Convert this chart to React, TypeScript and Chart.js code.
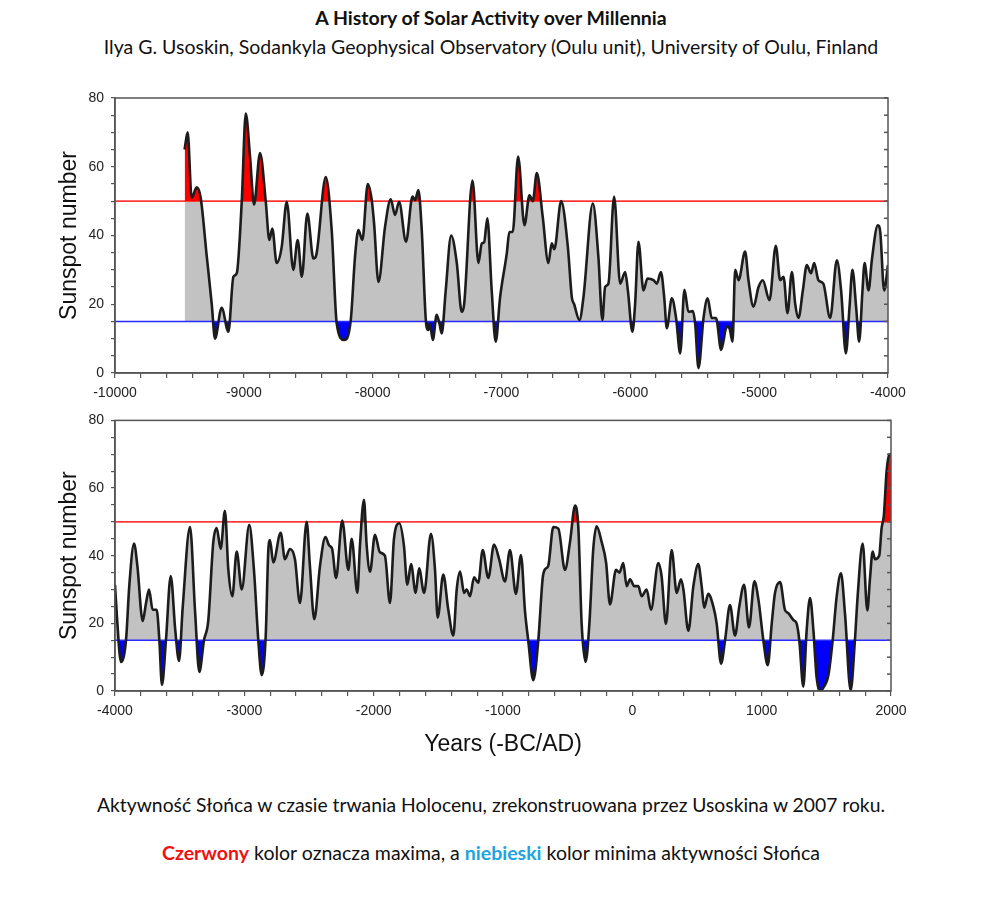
import React, { useEffect, useRef } from "react";
import { Chart, registerables } from "chart.js";

Chart.register(...registerables);

// ---------- DATA ----------
// Upper panel: 9500 BC .. 4000 BC
const TOP_YEARS = [
  -9460, -9436, -9405, -9366, -9335, -9288, -9249, -9224, -9172, -9120,
  -9081, -9055, -9016, -8985, -8952, -8921, -8874, -8830, -8802, -8779,
  -8745, -8706, -8667, -8616, -8582, -8550, -8507, -8460, -8440, -8364,
  -8318, -8279, -8222, -8170, -8137, -8111, -8080, -8038, -8007, -7989,
  -7955, -7904, -7860, -7826, -7795, -7741, -7691, -7671, -7645, -7619,
  -7585, -7567, -7556, -7533, -7503, -7482, -7464, -7433, -7391, -7347,
  -7309, -7290, -7225, -7179, -7153, -7135, -7110, -7076, -7045, -7011,
  -6959, -6939, -6913, -6871, -6822, -6783, -6757, -6726, -6680, -6636,
  -6610, -6590, -6537, -6485, -6454, -6436, -6395, -6364, -6291, -6248,
  -6217, -6196, -6170, -6126, -6079, -6040, -6019, -5984, -5963, -5937,
  -5898, -5867, -5820, -5794, -5763, -5737, -5717, -5678, -5645, -5613,
  -5580, -5549, -5515, -5497, -5471, -5432, -5400, -5368, -5335, -5295,
  -5251, -5230, -5207, -5186, -5160, -5109, -5083, -5044, -5005, -4972,
  -4920, -4871, -4837, -4811, -4780, -4746, -4720, -4695, -4661, -4630,
  -4598, -4573, -4540, -4502, -4449, -4397, -4364, -4327, -4299, -4276,
  -4247, -4224, -4198, -4182, -4151, -4125, -4079, -4060, -4030, -4000,
];
const TOP_SSN = [
  65, 70, 51, 54, 51, 34, 20, 10, 19, 12,
  28, 29, 50, 75.5, 63, 49, 64, 50, 38.7, 42,
  32, 36.7, 49.8, 30, 38.7, 28, 46.4, 33.3, 34, 57,
  41.6, 14.4, 9.6, 15.4, 33.8, 41.6, 38.7, 55, 50.3, 43.5,
  26.5, 42.5, 50.5, 46, 49.8, 38.2, 51.3, 50.3, 53.2, 41.6,
  14.4, 12.5, 14.4, 9.6, 16.9, 14.4, 11.5, 24, 40, 32,
  17.8, 20, 56, 32, 37.7, 38, 45, 24, 9.1, 22,
  34.8, 41, 41, 63, 43, 51.7, 50, 58.2, 45.4, 32,
  37.7, 36, 50, 36.7, 22, 20, 15.4, 22, 49.3, 33.8,
  15.4, 25, 26, 51.3, 26, 29.4, 24, 12, 20, 38.2,
  24, 27.5, 27, 26, 29.4, 22, 13, 21.7, 16, 5.7,
  24.2, 17.8, 18, 14.4, 1.4, 16, 21.7, 16, 16, 6.7,
  13.5, 13, 9.1, 30, 27, 35.3, 27, 19.3, 25, 27,
  21.2, 37, 27, 28, 17.4, 29.4, 20, 16, 24, 31.4,
  29, 32, 27, 26, 16, 32.8, 24, 5.7, 19, 30,
  19, 9.1, 24, 32, 24, 33, 43, 41, 24, 31.4,
];

// Lower panel: 4000 BC .. 2000 AD
const BOTTOM_YEARS = [
  -4000, -3985, -3954, -3915, -3889, -3853, -3827, -3786, -3760, -3737,
  -3709, -3678, -3657, -3637, -3606, -3569, -3534, -3505, -3476, -3420,
  -3381, -3348, -3312, -3279, -3240, -3214, -3183, -3150, -3124, -3093,
  -3059, -3020, -2962, -2926, -2892, -2866, -2835, -2815, -2802, -2776,
  -2719, -2686, -2647, -2609, -2570, -2518, -2493, -2459, -2415, -2373,
  -2344, -2321, -2291, -2243, -2196, -2170, -2126, -2106, -2075, -2054,
  -2028, -1990, -1952, -1913, -1874, -1843, -1802, -1766, -1740, -1711,
  -1675, -1649, -1610, -1557, -1526, -1505, -1462, -1423, -1384, -1358,
  -1332, -1301, -1281, -1255, -1224, -1191, -1157, -1114, -1069, -1030,
  -985, -946, -900, -861, -830, -805, -766, -727, -693, -675,
  -650, -611, -572, -521, -482, -443, -417, -392, -361, -332,
  -302, -276, -237, -203, -173, -126, -100, -70, -44, -18,
  15, 46, 72, 111, 144, 201, 226, 260, 304, 343,
  376, 395, 433, 472, 510, 536, 556, 587, 626, 652,
  686, 717, 755, 794, 827, 864, 902, 944, 975, 1013,
  1047, 1078, 1103, 1142, 1180, 1206, 1245, 1270, 1291, 1322,
  1348, 1374, 1400, 1425, 1456, 1477, 1516, 1549, 1580, 1613,
  1644, 1688, 1721, 1742, 1781, 1817, 1837, 1858, 1876, 1909,
  1927, 1945, 1966, 1987, 2000,
];
const BOTTOM_SSN = [
  31.4, 22, 8.6, 15, 31.4, 43.6, 37, 20.7, 26, 30,
  24, 24, 15, 1.8, 15, 34, 18, 8.9, 25, 48.5,
  23.6, 5.6, 15, 20.7, 44, 48.2, 42, 53.3, 36, 28,
  41.2, 30, 49.1, 36, 15, 4.7, 16, 41.2, 44.6, 38,
  46.8, 39, 42, 39, 26, 50, 37, 21.2, 37, 45.5,
  43, 42, 33.4, 50.4, 35.8, 45, 29, 43, 56.5, 43,
  35.3, 46.2, 41, 40, 26, 45, 49.6, 43, 31.4, 37.5,
  29, 36.3, 29, 46.5, 36, 21.7, 34.4, 24, 16.4, 30,
  35.3, 29, 30, 28, 33.6, 32, 41.7, 33.4, 43.3, 39,
  32.4, 41.7, 28.7, 40.2, 23.6, 15, 3.2, 15, 33.4, 36,
  37, 48.5, 48, 35.8, 44, 54.8, 48, 20, 8.6, 20,
  42, 48.7, 44, 38, 25.6, 35.8, 35, 37.8, 31, 33,
  31, 31, 28, 30, 24, 37.8, 34, 19.8, 41.7, 29,
  33, 30, 17.8, 31, 37.5, 31, 24.6, 28.7, 25, 20,
  8.1, 15, 25.4, 16.4, 25, 31.4, 18.8, 32.4, 27, 15,
  7.6, 20, 29, 32.2, 24, 23, 21, 20, 15, 1.3,
  18, 27.5, 18, 4, 0, 1, 4.7, 15, 28, 34.8,
  23, 0.2, 15, 28, 43.6, 23.8, 33, 41.2, 39, 40,
  48, 52, 65, 70, 70,
];

const TOP_RANGE = [-10000, -4000];
const BOTTOM_RANGE = [-4000, 2000];
const MAX_LEVEL = 50; // red line – grand maxima
const MIN_LEVEL = 15; // blue line – grand minima
const Y_MIN = 0;
const Y_MAX = 80;
const X_TICK_STEP = 200;
const X_LABEL_STEP = 1000;
const Y_TICK_STEP = 5;
const Y_LABEL_STEP = 20;

const TITLE = "A History of Solar Activity over Millennia";
const SUBTITLE =
  "Ilya G. Usoskin, Sodankyla Geophysical Observatory (Oulu unit), University of Oulu, Finland";
const Y_TITLE = "Sunspot number";
const X_TITLE = "Years (-BC/AD)";

const TICK_FONT = { family: "'Liberation Sans Narrow', 'Liberation Sans', Arial, sans-serif", size: 14 };
const AXIS_TITLE_FONT = { family: "'Liberation Sans', Arial, sans-serif", size: 23 };
const TEXT_FONT = "Lato, 'Open Sans', sans-serif";

const framePlugin = {
  id: "frame",
  afterDatasetsDraw(chart: any) {
    const { ctx, chartArea: a, scales } = chart;
    ctx.save();
    ctx.strokeStyle = "#555";
    ctx.lineWidth = 1.5;
    ctx.strokeRect(a.left, a.top, a.right - a.left, a.bottom - a.top);
    const ys = scales.y;
    for (let v = Y_MIN; v <= Y_MAX; v += Y_TICK_STEP) {
      const py = ys.getPixelForValue(v);
      ctx.beginPath();
      ctx.moveTo(a.right, py);
      ctx.lineTo(a.right - 4, py);
      ctx.stroke();
    }
    ctx.restore();
  },
};

type PanelProps = {
  years: number[];
  values: number[];
  range: number[];
  width: number;
  height: number;
  padding: { left: number; right: number; top: number; bottom: number };
  yWidth: number;
  xHeight: number;
  showXTitle: boolean;
};

function Panel(props: PanelProps) {
  const ref = useRef<HTMLCanvasElement | null>(null);
  useEffect(() => {
    if (!ref.current) return;
    const pts = props.years.map((x, i) => ({ x, y: props.values[i] }));
    const [x0, x1] = props.range;
    const chart = new Chart(ref.current, {
      type: "line",
      data: {
        datasets: [
          {
            data: pts,
            borderColor: "#1c1c1c",
            borderWidth: 2.6,
            pointRadius: 0,
            cubicInterpolationMode: "monotone",
            fill: { target: { value: MAX_LEVEL }, above: "#ff0000", below: "rgba(0,0,0,0)" },
          } as any,
          {
            data: [
              { x: x0, y: MAX_LEVEL },
              { x: x1, y: MAX_LEVEL },
            ],
            borderColor: "#ff3b3b",
            borderWidth: 1.6,
            pointRadius: 0,
            fill: false,
          },
          {
            data: [
              { x: x0, y: MIN_LEVEL },
              { x: x1, y: MIN_LEVEL },
            ],
            borderColor: "#2a2aff",
            borderWidth: 1.6,
            pointRadius: 0,
            fill: false,
          },
          {
            data: pts,
            borderColor: "rgba(0,0,0,0)",
            borderWidth: 0,
            pointRadius: 0,
            cubicInterpolationMode: "monotone",
            fill: { target: { value: MIN_LEVEL }, above: "#c2c2c2", below: "#0000ff" },
          } as any,
        ],
      },
      options: {
        responsive: false,
        animation: false,
        events: [],
        layout: { padding: props.padding },
        plugins: { legend: { display: false }, tooltip: { enabled: false }, title: { display: false } },
        scales: {
          x: {
            type: "linear",
            min: x0,
            max: x1,
            afterFit: (s: any) => {
              s.height = props.xHeight;
            },
            ticks: {
              stepSize: X_TICK_STEP,
              autoSkip: false,
              maxRotation: 0,
              padding: 7,
              color: "#222",
              font: TICK_FONT,
              callback: (v: any) => (Number(v) % X_LABEL_STEP === 0 ? String(v) : ""),
            },
            grid: { drawOnChartArea: false, tickLength: 5, color: "#555", lineWidth: 1.2 },
            border: { color: "#555", width: 1.5 },
            title: {
              display: props.showXTitle,
              text: X_TITLE,
              color: "#111",
              font: AXIS_TITLE_FONT,
              padding: 0,
            },
          },
          y: {
            min: Y_MIN,
            max: Y_MAX,
            afterFit: (s: any) => {
              s.width = props.yWidth;
            },
            ticks: {
              stepSize: Y_TICK_STEP,
              autoSkip: false,
              padding: 7,
              color: "#222",
              font: TICK_FONT,
              callback: (v: any) => (Number(v) % Y_LABEL_STEP === 0 ? String(v) : ""),
            },
            grid: { drawOnChartArea: false, tickLength: 4, color: "#555", lineWidth: 1.2 },
            border: { color: "#555", width: 1.5 },
            title: {
              display: true,
              text: Y_TITLE,
              color: "#111",
              font: AXIS_TITLE_FONT,
              padding: 0,
            },
          },
        },
      },
      plugins: [framePlugin],
    });
    return () => chart.destroy();
  }, []);
  return (
    <canvas
      ref={ref}
      width={props.width}
      height={props.height}
      style={{ display: "block", width: props.width, height: props.height }}
    />
  );
}

const abs = (top: number, extra: any = {}) => ({
  position: "absolute" as const,
  left: 0,
  top,
  width: 982,
  textAlign: "center" as const,
  fontFamily: TEXT_FONT,
  color: "#111",
  whiteSpace: "nowrap" as const,
  ...extra,
});

export default function App() {
  return (
    <div style={{ position: "absolute", left: 0, top: 0, width: 982, height: 908, background: "#fff", overflow: "hidden" }}>
      <div style={abs(5, { fontSize: 19.5, fontWeight: 700, lineHeight: "26px" })}>{TITLE}</div>
      <div style={abs(34, { fontSize: 19.5, lineHeight: "26px" })}>{SUBTITLE}</div>

      <div style={{ position: "absolute", left: 0, top: 80 }}>
        <Panel
          years={TOP_YEARS}
          values={TOP_SSN}
          range={TOP_RANGE}
          width={982}
          height={325}
          padding={{ left: 56, right: 94, top: 18, bottom: 0 }}
          yWidth={59}
          xHeight={32}
          showXTitle={false}
        />
      </div>
      <div style={{ position: "absolute", left: 0, top: 405 }}>
        <Panel
          years={BOTTOM_YEARS}
          values={BOTTOM_SSN}
          range={BOTTOM_RANGE}
          width={982}
          height={354}
          padding={{ left: 56, right: 91, top: 12, bottom: 1 }}
          yWidth={59}
          xHeight={67}
          showXTitle={true}
        />
      </div>

      <div style={abs(792, { fontSize: 19.3, lineHeight: "26px" })}>
        Aktywność Słońca w czasie trwania Holocenu, zrekonstruowana przez Usoskina w 2007 roku.
      </div>
      <div style={abs(840, { fontSize: 19.5, lineHeight: "26px" })}>
        <span style={{ color: "#ee1111", fontWeight: 700 }}>Czerwony</span> kolor oznacza maxima, a{" "}
        <span style={{ color: "#20a4e0", fontWeight: 700 }}>niebieski</span> kolor minima aktywności Słońca
      </div>
    </div>
  );
}
